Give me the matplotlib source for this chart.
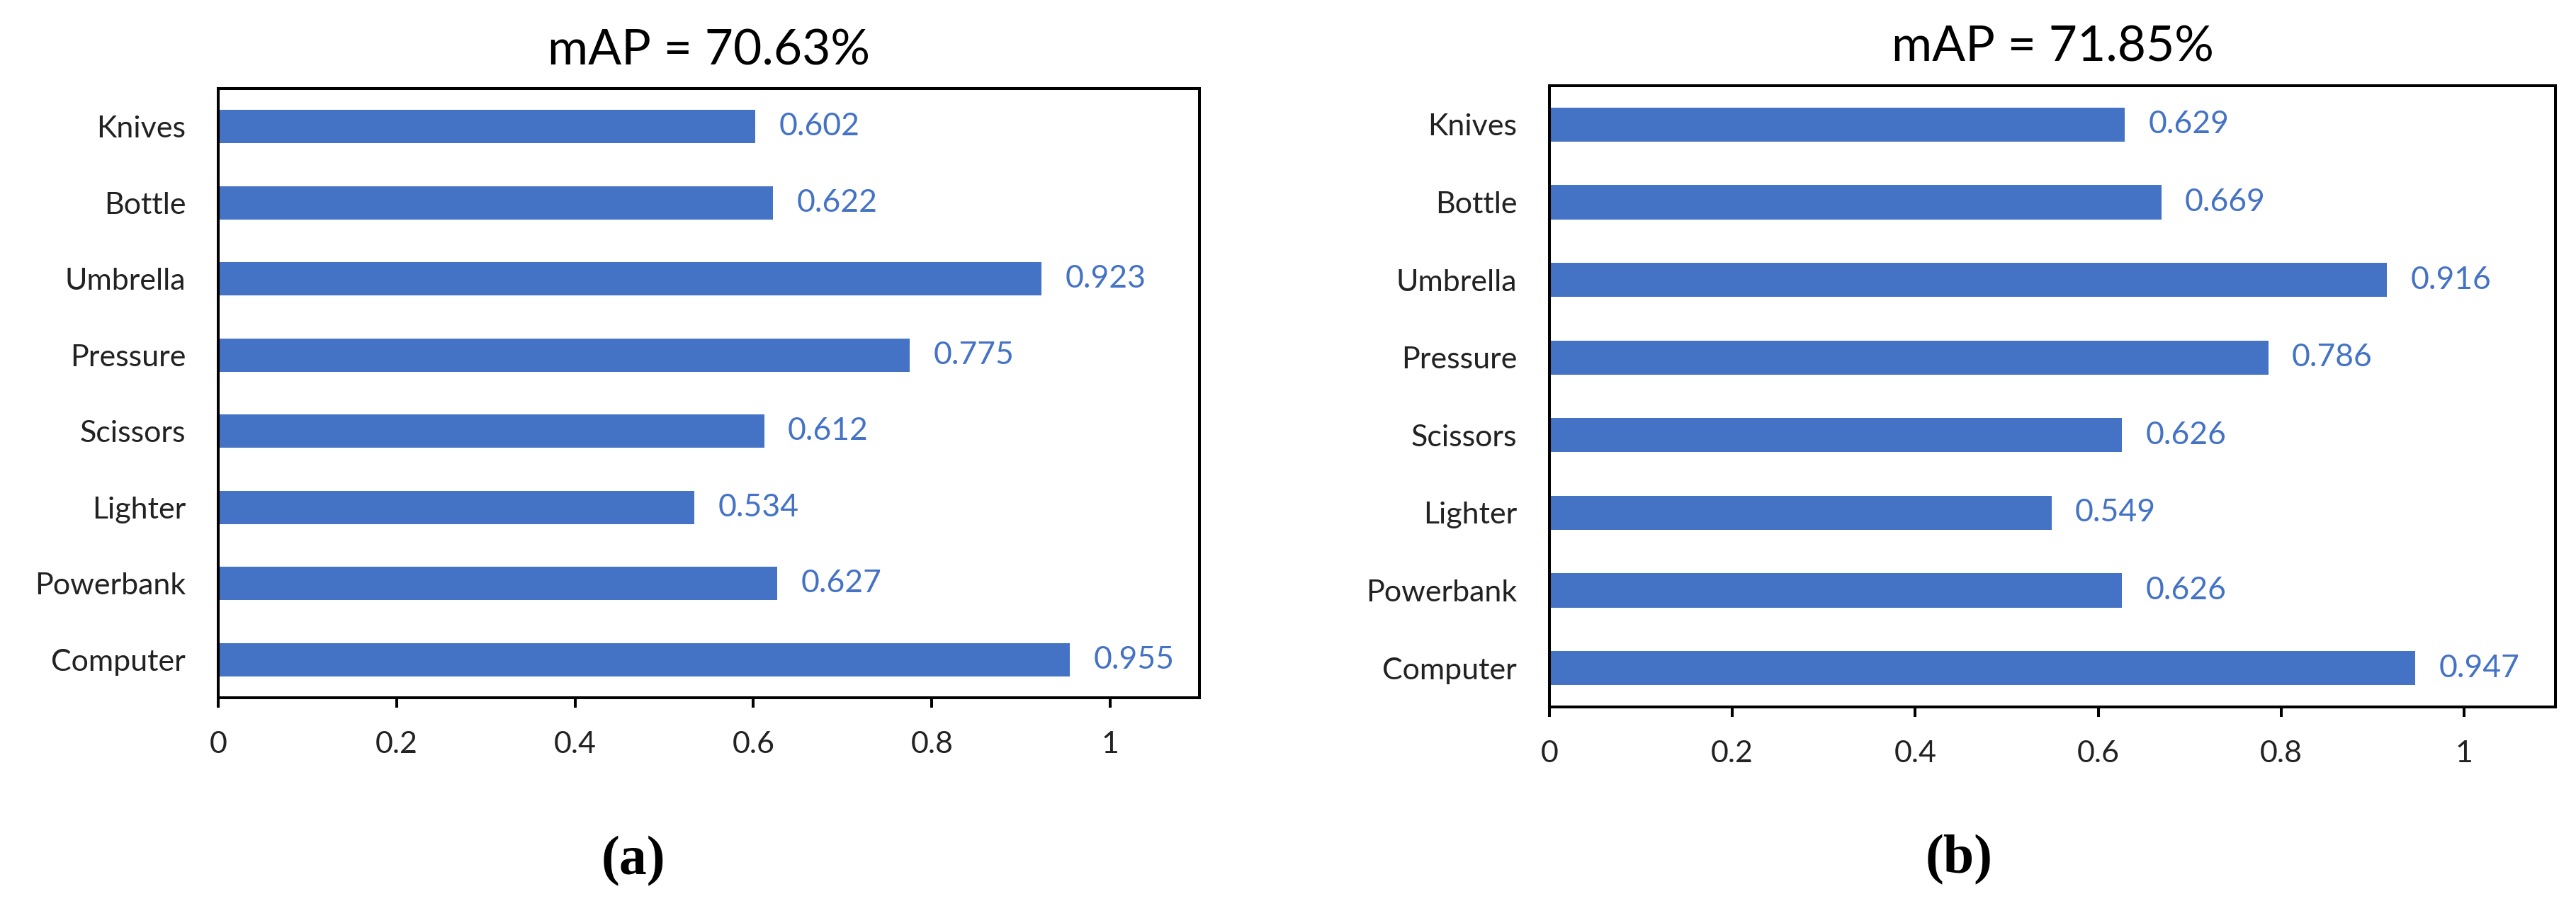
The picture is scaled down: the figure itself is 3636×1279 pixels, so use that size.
import matplotlib
matplotlib.use("Agg")
import matplotlib.pyplot as plt
from matplotlib.ticker import FixedLocator

# ---- data (top to bottom) ----
categories = ["Knives", "Bottle", "Umbrella", "Pressure", "Scissors", "Lighter", "Powerbank", "Computer"]
values_a = [0.602, 0.622, 0.923, 0.775, 0.612, 0.534, 0.627, 0.955]
values_b = [0.629, 0.669, 0.916, 0.786, 0.626, 0.549, 0.626, 0.947]
titles = ["mAP = 70.63%", "mAP = 71.85%"]
captions = ["(a)", "(b)"]
xticks = [0, 0.2, 0.4, 0.6, 0.8, 1.0]
xticklabels = ["0", "0.2", "0.4", "0.6", "0.8", "1"]

W, H = 3637, 1279
DPI = 100
plt.rcParams['font.family'] = ['Lato', 'DejaVu Sans']

fig = plt.figure(figsize=(W / DPI, H / DPI), dpi=DPI)
fig.patch.set_facecolor("white")

BAR = "#4472C4"
LBL = "#4472C4"

def px_axes(left, right, top, bottom):
    return fig.add_axes([left / W, (H - bottom) / H, (right - left) / W, (bottom - top) / H])

panels = [
    dict(vals=values_a, box=(308, 1693, 125, 985), title_y=72, cap=(894, 1216)),
    dict(vals=values_b, box=(2187, 3607, 121, 998), title_y=67, cap=(2765, 1214)),
]

for k, p in enumerate(panels):
    ax = px_axes(*p["box"])
    y = list(range(len(categories)))
    ax.barh(y, p["vals"], height=0.44, color=BAR, zorder=2)
    ax.set_ylim(len(categories) - 0.5, -0.5)
    ax.set_xlim(0, 1.1)
    ax.set_yticks(y)
    ax.set_yticklabels(categories, fontsize=31, color="#222222")
    ax.xaxis.set_major_locator(FixedLocator(xticks))
    ax.set_xticklabels(xticklabels, fontsize=31, color="#222222")
    ax.tick_params(axis="y", length=0, pad=33)
    ax.tick_params(axis="x", direction="out", length=10, width=2.9, pad=24, color="black")
    for s in ax.spines.values():
        s.set_linewidth(2.9)
        s.set_color("black")
    for yi, v in zip(y, p["vals"]):
        ax.annotate(f"{v:.3f}", xy=(v, yi), xytext=(24, 0), textcoords="offset points",
                    va="center", ha="left", fontsize=32, color=LBL)
    left, right, top, bottom = p["box"]
    fig.text((left + right) / 2 / W, 1 - p["title_y"] / H, titles[k],
             ha="center", va="center", fontsize=50, color="black")
    fig.text(p["cap"][0] / W, 1 - p["cap"][1] / H, captions[k], ha="center", va="center",
             fontsize=56, fontweight="bold", family=["Liberation Serif", "DejaVu Serif"])

fig.savefig("out.png", dpi=DPI, facecolor="white")
